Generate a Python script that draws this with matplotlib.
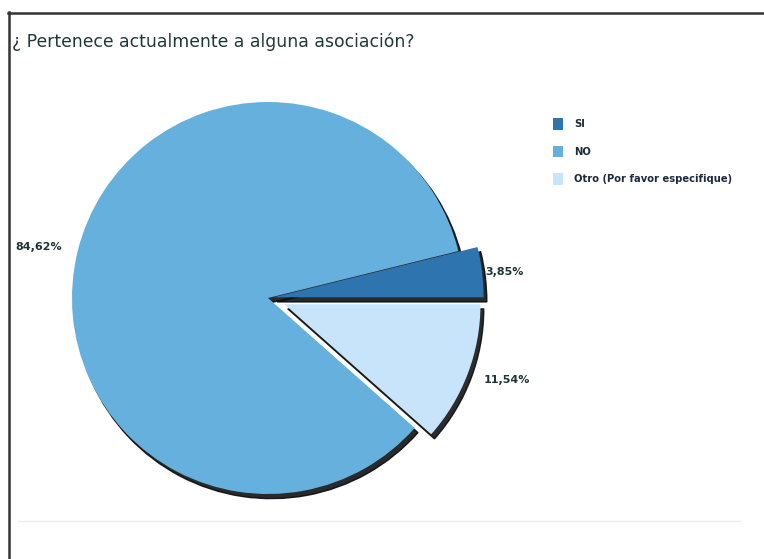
import matplotlib
matplotlib.use('Agg')
import matplotlib.pyplot as plt
from matplotlib.lines import Line2D

# datos de la encuesta
categorias = ['SI', 'NO', 'Otro (Por favor especifique)']
porcentajes = [3.85, 84.62, 11.54]
colores = ['#2e75b0', '#66b0de', '#c8e4fa']

etiquetas = [('%.2f' % v).replace('.', ',') + '%' for v in porcentajes]

W, H = 764, 559
fig = plt.figure(figsize=(W / 100, H / 100), dpi=100)
fig.patch.set_facecolor('white')

# eje del pastel: centro (268, 298) px, radio 196 px
R = 196.0
cx, cy = 268.0, 298.0
half = 1.3 * R
ax = fig.add_axes([(cx - half) / W, (H - cy - half) / H, 2 * half / W, 2 * half / H])

wedges, textos = ax.pie(
    porcentajes,
    labels=etiquetas,
    colors=colores,
    startangle=0,
    counterclock=True,
    explode=[0.03, 0, 0.09],
    labeldistance=1.085,
    radius=1.0,
    shadow={'ox': 0.012, 'oy': -0.017, 'shade': 0.97, 'alpha': 0.85},
    wedgeprops={'edgecolor': 'none'},
    textprops={'fontsize': 8, 'fontweight': 'bold', 'color': '#1c3636'},
    frame=True,
)
# la porcion SI sobresale un poco del resto
wedges[0].set_radius(1.07)
ax.set_xlim(-1.3, 1.3)
ax.set_ylim(-1.3, 1.3)
ax.set_aspect('auto')
ax.axis('off')

# titulo
fig.text(12 / W, 1 - 42 / H, '¿ Pertenece actualmente a alguna asociación?',
         fontsize=12.4, color='#203838', ha='left', va='center')

# leyenda
leg = fig.legend(wedges, categorias, loc='upper left',
                 bbox_to_anchor=(544 / W, 1 - 109 / H),
                 frameon=False, handlelength=1.0, handleheight=1.4,
                 labelspacing=1.6, handletextpad=1.1,
                 prop={'size': 7.2, 'weight': 'bold'})
for t in leg.get_texts():
    t.set_color('#1c2c3c')

# marco
fig.add_artist(Line2D([8 / W, 1], [1 - 12.5 / H, 1 - 12.5 / H], color='#333333', lw=1.8))
fig.add_artist(Line2D([8.5 / W, 8.5 / W], [0, 1 - 12 / H], color='#333333', lw=1.8))
fig.add_artist(Line2D([18 / W, 740 / W], [1 - 521 / H, 1 - 521 / H], color='#eeeeee', lw=1))

fig.savefig('out.png', dpi=100, facecolor='white')
